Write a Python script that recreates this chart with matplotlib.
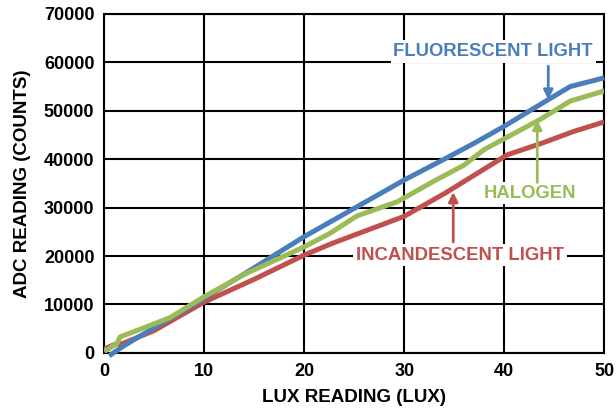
import matplotlib
matplotlib.use("Agg")
import matplotlib.pyplot as plt

plt.rcParams['font.family'] = ['Liberation Sans', 'DejaVu Sans']
plt.rcParams['font.weight'] = 'bold'

# data
fluor_x = [0.5, 2, 5, 8, 10, 14, 20, 25.3, 30, 34, 37, 40, 44.4, 46.6, 50]
fluor_y = [-600, 1500, 5200, 8800, 11300, 16300, 24000, 30200, 35700, 40000, 43300, 46800, 52300, 55000, 56800]

halo_x = [0, 0.5, 1.3, 1.6, 4, 6.6, 10, 14, 20, 22.5, 25.3, 29.3, 33, 36, 38, 43.5, 46.6, 50]
halo_y = [300, 900, 2000, 3300, 5200, 7300, 11600, 16200, 21900, 24600, 28300, 31200, 35500, 38800, 42000, 48100, 52000, 54100]

incan_x = [0, 1.1, 1.8, 5, 10, 15, 20, 22.9, 30, 34.1, 40.3, 43.9, 46.9, 50]
incan_y = [800, 1800, 1900, 4600, 10500, 15200, 20200, 22700, 28200, 33000, 40900, 43400, 45700, 47700]

blue = '#4a7ebb'
green = '#9bbb59'
red = '#c0504d'

fig = plt.figure(figsize=(6.16, 4.08), dpi=100)
ax = fig.add_axes([0.169, 0.135, 0.812, 0.831])

ax.plot(incan_x, incan_y, color=red, lw=3.6, solid_capstyle='butt', zorder=3)
ax.plot(fluor_x, fluor_y, color=blue, lw=3.6, solid_capstyle='butt', zorder=4, clip_on=False)
ax.plot(halo_x, halo_y, color=green, lw=3.6, solid_capstyle='butt', zorder=5)

ax.set_xlim(0, 50)
ax.set_ylim(0, 70000)
ax.set_xticks(range(0, 51, 10))
ax.set_yticks(range(0, 70001, 10000))
ax.grid(True, color='black', lw=1.5)
ax.set_axisbelow(True)
for s in ax.spines.values():
    s.set_linewidth(1.5)
ax.tick_params(length=0, labelsize=13, pad=7)
for lab in ax.get_xticklabels() + ax.get_yticklabels():
    lab.set_fontweight('bold')

ax.set_xlabel('LUX READING (LUX)', fontsize=13.5, fontweight='bold', labelpad=7)
ax.set_ylabel('ADC READING (COUNTS)', fontsize=13.5, fontweight='bold', labelpad=9)

box = dict(facecolor='white', edgecolor='none', pad=2)
ap = dict(arrowstyle='-|>', lw=2, mutation_scale=14, shrinkA=0, shrinkB=0)

ax.text(38.9, 62200, 'FLUORESCENT LIGHT', color=blue, fontsize=13.3, fontweight='bold',
        ha='center', va='center', bbox=box, zorder=6)
ax.annotate('', xy=(44.4, 52300), xytext=(44.4, 59200),
            arrowprops=dict(ap, color=blue), zorder=6)

ax.text(42.6, 33000, 'HALOGEN', color=green, fontsize=13.3, fontweight='bold',
        ha='center', va='center', bbox=box, zorder=6)
ax.annotate('', xy=(43.3, 48100), xytext=(43.3, 35200),
            arrowprops=dict(ap, color=green), zorder=6)

ax.text(35.6, 20200, 'INCANDESCENT LIGHT', color=red, fontsize=13.3, fontweight='bold',
        ha='center', va='center', bbox=box, zorder=6)
ax.annotate('', xy=(34.9, 33200), xytext=(34.9, 22900),
            arrowprops=dict(ap, color=red), zorder=6)

fig.savefig('out.png', dpi=100)
